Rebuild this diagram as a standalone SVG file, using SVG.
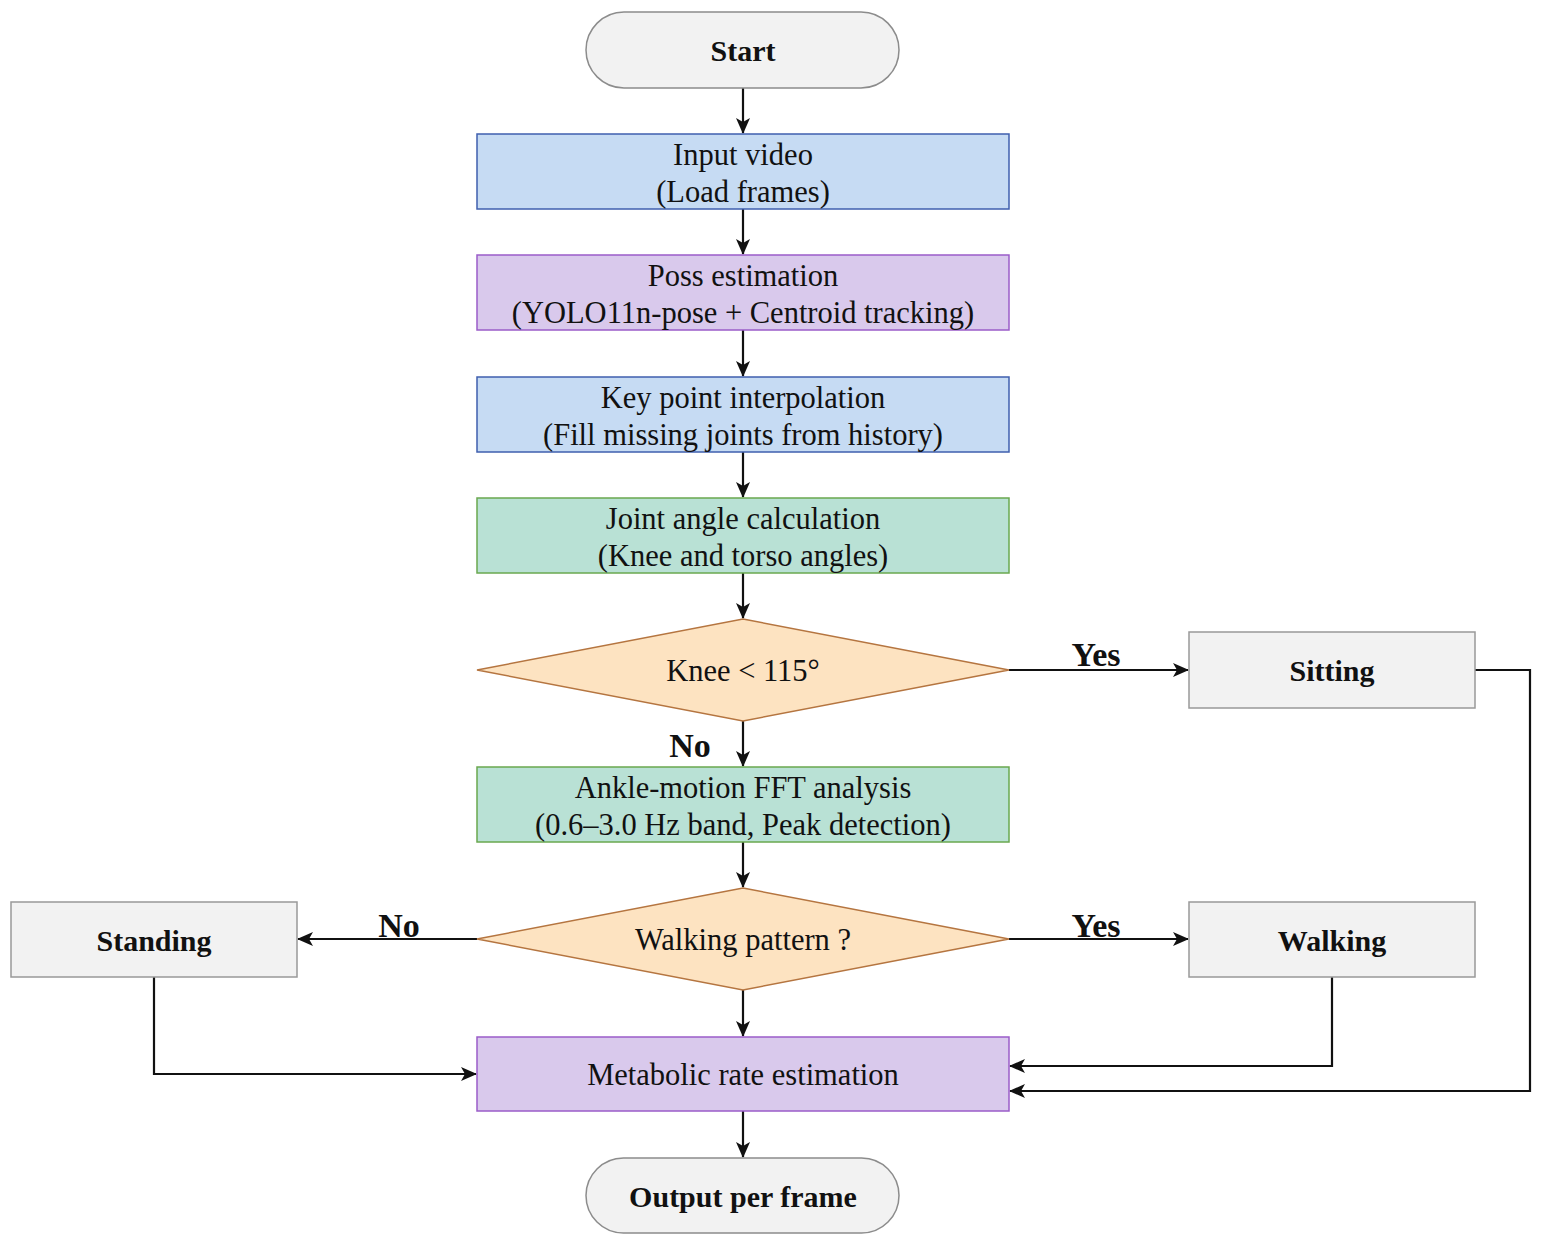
<svg xmlns="http://www.w3.org/2000/svg" width="1542" height="1246" viewBox="0 0 1542 1246">
<style>
text{font-family:"Liberation Serif","Times New Roman",serif;fill:#111;text-anchor:middle}
.t{font-size:30.5px}
.b{font-size:30px;font-weight:bold}
.lbl{font-size:34px;font-weight:bold}
.term{fill:#f2f2f2;stroke:#8c8c8c;stroke-width:1.5}
.blue{fill:#c6dbf3;stroke:#3f5fae;stroke-width:1.5}
.purple{fill:#d9c9ec;stroke:#9a5cc9;stroke-width:1.5}
.green{fill:#b9e1d5;stroke:#6aa84f;stroke-width:1.5}
.dec{fill:#fde3c1;stroke:#b57540;stroke-width:1.5}
.gray{fill:#f2f2f2;stroke:#999;stroke-width:1.5}
.c{fill:none;stroke:#111;stroke-width:2.2;marker-end:url(#ah)}
</style>
<defs>
<marker id="ah" viewBox="0 0 16 16" refX="15" refY="8" markerWidth="16" markerHeight="16" markerUnits="userSpaceOnUse" orient="auto">
<path d="M0,1 L16,8 L0,15 L4,8 Z" fill="#111"/>
</marker>
</defs>
<rect width="1542" height="1246" fill="#fff"/>
<g id="connectors">
<line class="c" x1="743" y1="88" x2="743" y2="133"/>
<line class="c" x1="743" y1="209" x2="743" y2="254"/>
<line class="c" x1="743" y1="330" x2="743" y2="376"/>
<line class="c" x1="743" y1="452" x2="743" y2="497"/>
<line class="c" x1="743" y1="573" x2="743" y2="618"/>
<line class="c" x1="1009" y1="670" x2="1188" y2="670"/>
<line class="c" x1="743" y1="721" x2="743" y2="766"/>
<line class="c" x1="743" y1="842" x2="743" y2="887"/>
<line class="c" x1="477" y1="939" x2="298" y2="939"/>
<line class="c" x1="1009" y1="939" x2="1188" y2="939"/>
<line class="c" x1="743" y1="990" x2="743" y2="1036"/>
<polyline class="c" points="154,977 154,1074 476,1074"/>
<polyline class="c" points="1332,977 1332,1066 1010,1066"/>
<polyline class="c" points="1475,670 1530,670 1530,1091 1010,1091"/>
<line class="c" x1="743" y1="1111" x2="743" y2="1157"/>
<text class="lbl" x="1096" y="666">Yes</text>
<text class="lbl" x="690" y="757">No</text>
<text class="lbl" x="399" y="937">No</text>
<text class="lbl" x="1096" y="937">Yes</text>
</g>
<g id="start"><rect class="term" x="586" y="12" width="313" height="76" rx="38"/><text class="b" x="743" y="61">Start</text></g>
<g id="input"><rect class="blue" x="477" y="134" width="532" height="75"/><text class="t" x="743" y="165">Input video</text><text class="t" x="743" y="202">(Load frames)</text></g>
<g id="pose"><rect class="purple" x="477" y="255" width="532" height="75"/><text class="t" x="743" y="286">Poss estimation</text><text class="t" x="743" y="323">(YOLO11n-pose + Centroid tracking)</text></g>
<g id="interp"><rect class="blue" x="477" y="377" width="532" height="75"/><text class="t" x="743" y="408">Key point interpolation</text><text class="t" x="743" y="445">(Fill missing joints from history)</text></g>
<g id="angle"><rect class="green" x="477" y="498" width="532" height="75"/><text class="t" x="743" y="529">Joint angle calculation</text><text class="t" x="743" y="566">(Knee and torso angles)</text></g>
<g id="knee"><polygon class="dec" points="743,619 1009,670 743,721 477,670"/><text class="t" x="743" y="681">Knee &lt; 115°</text></g>
<g id="sitting"><rect class="gray" x="1189" y="632" width="286" height="76"/><text class="b" x="1332" y="681">Sitting</text></g>
<g id="fft"><rect class="green" x="477" y="767" width="532" height="75"/><text class="t" x="743" y="798">Ankle-motion FFT analysis</text><text class="t" x="743" y="835">(0.6–3.0 Hz band, Peak detection)</text></g>
<g id="walkq"><polygon class="dec" points="743,888 1009,939 743,990 477,939"/><text class="t" x="743" y="950">Walking pattern ?</text></g>
<g id="standing"><rect class="gray" x="11" y="902" width="286" height="75"/><text class="b" x="154" y="951">Standing</text></g>
<g id="walking"><rect class="gray" x="1189" y="902" width="286" height="75"/><text class="b" x="1332" y="951">Walking</text></g>
<g id="metabolic"><rect class="purple" x="477" y="1037" width="532" height="74"/><text class="t" x="743" y="1085">Metabolic rate estimation</text></g>
<g id="output"><rect class="term" x="586" y="1158" width="313" height="75" rx="37.5"/><text class="b" x="743" y="1207">Output per frame</text></g>
</svg>
